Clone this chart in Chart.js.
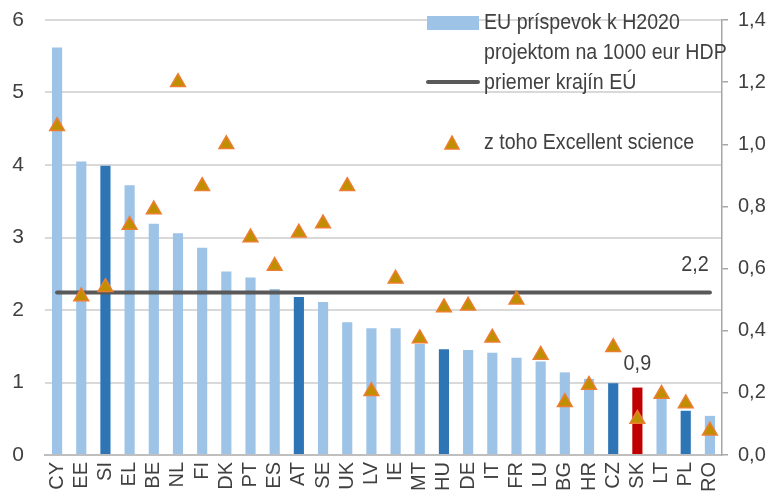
<!DOCTYPE html>
<html>
<head>
<meta charset="utf-8">
<script src="https://cdn.jsdelivr.net/npm/chart.js@4"></script>
<style>
  html, body { margin: 0; padding: 0; background: #fff; }
  #wrap { width: 777px; height: 492px; }
</style>
</head>
<body>
<div id="wrap"><canvas id="chart" width="777" height="492"></canvas></div>
<script>
// krajiny
const categories = ['CY','EE','SI','EL','BE','NL','FI','DK','PT','ES','AT','SE','UK','LV','IE','MT','HU','DE','IT','FR','LU','BG','HR','CZ','SK','LT','PL','RO'];
// EU príspevok k H2020 projektom na 1000 eur HDP (ľavá os)
const contribution = [5.62,4.05,3.99,3.72,3.19,3.06,2.86,2.53,2.45,2.29,2.18,2.11,1.83,1.75,1.75,1.53,1.46,1.45,1.41,1.34,1.29,1.14,1.05,0.99,0.93,0.79,0.61,0.54];
// z toho Excellent science (pravá os)
const excellentScience = [1.058,0.51,0.54,0.74,0.79,1.2,0.865,1.0,0.70,0.608,0.715,0.745,0.865,0.205,0.567,0.375,0.475,0.48,0.377,0.50,0.322,0.17,0.225,0.347,0.116,0.196,0.166,0.078];
// priemer krajín EÚ
const euAverage = 2.24;
const leftTicks = [0, 6, 1];
const rightTicks = [0, 1.4, 0.2];

const darkCountries = ['SI','AT','HU','CZ','PL'];
const redCountry = 'SK';

const FONT = "'Liberation Sans', Arial, sans-serif";
const TEXT = '#404040';

const barColors = categories.map(c => c === redCountry ? '#C00000' : (darkCountries.includes(c) ? '#2E75B6' : '#9DC3E6'));
const comma = v => v.toFixed(1).replace('.', ',');

// užší text (ako Arial Narrow)
function narrowText(ctx, txt, x, y, sx) {
  ctx.save();
  ctx.translate(x, y);
  ctx.scale(sx, 1);
  ctx.fillText(txt, 0, 0);
  ctx.restore();
}

// popisky, legenda
const extras = {
  id: 'extras',
  afterDraw(chart) {
    const ctx = chart.ctx;
    const x = chart.scales.x, y = chart.scales.y;
    ctx.save();
    ctx.fillStyle = TEXT;
    ctx.font = '22px ' + FONT;
    ctx.textBaseline = 'middle';
    ctx.textAlign = 'center';
    narrowText(ctx, comma(euAverage), x.getPixelForValue(categories.length - 1) - 15, y.getPixelForValue(euAverage) - 28, 0.9);
    const sk = categories.indexOf(redCountry);
    narrowText(ctx, comma(contribution[sk]), x.getPixelForValue(sk), y.getPixelForValue(contribution[sk]) - 24, 0.9);

    // legenda
    ctx.textAlign = 'left';
    ctx.fillStyle = '#9DC3E6';
    ctx.fillRect(427, 16, 52, 14);
    ctx.strokeStyle = '#595959';
    ctx.lineWidth = 4;
    ctx.lineCap = 'round';
    ctx.beginPath(); ctx.moveTo(428, 82); ctx.lineTo(478, 82); ctx.stroke();
    ctx.fillStyle = '#BF8F00';
    ctx.strokeStyle = '#ED7D31';
    ctx.lineWidth = 1.5;
    ctx.beginPath(); ctx.moveTo(452, 136); ctx.lineTo(459, 149); ctx.lineTo(445, 149); ctx.closePath(); ctx.fill(); ctx.stroke();
    ctx.fillStyle = TEXT;
    narrowText(ctx, 'EU príspevok k H2020', 484, 23, 0.89);
    narrowText(ctx, 'projektom na 1000 eur HDP', 484, 53, 0.89);
    narrowText(ctx, 'priemer krajín EÚ', 484, 83, 0.89);
    narrowText(ctx, 'z toho Excellent science', 484, 143, 0.89);
    ctx.restore();
  }
};

new Chart(document.getElementById('chart'), {
  data: {
    labels: categories,
    datasets: [
      {
        type: 'line',
        label: 'z toho Excellent science',
        data: excellentScience,
        yAxisID: 'y1',
        showLine: false,
        pointStyle: 'triangle',
        pointRadius: 8.5,
        backgroundColor: '#BF8F00',
        borderColor: '#ED7D31',
        pointBorderWidth: 1.5,
        order: 0
      },
      {
        type: 'line',
        label: 'priemer krajín EÚ',
        data: categories.map(() => euAverage),
        yAxisID: 'y',
        borderColor: '#595959',
        borderWidth: 4,
        pointRadius: 0,
        borderCapStyle: 'round',
        order: 1
      },
      {
        type: 'bar',
        label: 'EU príspevok k H2020 projektom na 1000 eur HDP',
        data: contribution,
        yAxisID: 'y',
        backgroundColor: barColors,
        barPercentage: 0.42,
        categoryPercentage: 1,
        order: 2
      }
    ]
  },
  options: {
    responsive: false,
    animation: false,
    layout: { padding: { top: 20, left: 0, right: 0, bottom: 0 } },
    plugins: { legend: { display: false }, tooltip: { enabled: false } },
    scales: {
      x: {
        grid: { display: false, drawTicks: false },
        border: { color: '#BFBFBF', width: 2 },
        ticks: { autoSkip: false, minRotation: 90, maxRotation: 90, padding: 7, color: TEXT, font: { family: FONT, size: 20 } },
        afterFit(s) { s.height = 37; s.paddingLeft = 0; s.paddingRight = 0; }
      },
      y: {
        position: 'left',
        min: leftTicks[0], max: leftTicks[1],
        ticks: { stepSize: leftTicks[2], padding: 21, color: TEXT, font: { family: FONT, size: 21 } },
        grid: { color: '#D9D9D9', lineWidth: 2, drawTicks: false },
        border: { display: false },
        afterFit(s) { s.width = 45; s.paddingTop = 0; s.paddingBottom = 0; }
      },
      y1: {
        position: 'right',
        min: rightTicks[0], max: rightTicks[1],
        ticks: { stepSize: rightTicks[2], padding: 10, color: TEXT, font: { family: FONT, size: 20 }, callback: v => comma(v) },
        grid: { drawOnChartArea: false, tickLength: 6, color: '#A6A6A6', lineWidth: 1.5 },
        border: { color: '#A6A6A6', width: 1.5 },
        afterFit(s) { s.width = 55; s.paddingTop = 0; s.paddingBottom = 0; }
      }
    }
  },
  plugins: [extras]
});
</script>
</body>
</html>
